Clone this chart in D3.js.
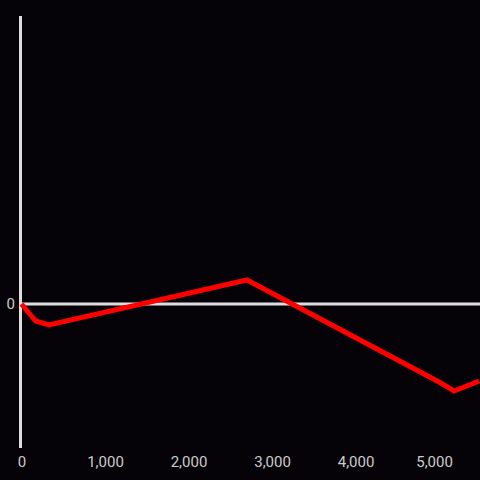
<!DOCTYPE html>
<html>
<head>
<meta charset="utf-8">
<script src="https://cdn.jsdelivr.net/npm/d3@7"></script>
<style>
  body { margin: 0; background: #050307; }
  svg { display: block; }
  .tick text { font-family: Roboto, sans-serif; font-size: 15px; fill: #cccccc; }
</style>
</head>
<body>
<div id="main"></div>
<script>
// values
var xValues = [0, 170, 330, 2700, 5000, 5180, 5480];
var yValues = [0, -17, -21, 24, -78, -87, -77];
var xTicks = [0, 1000, 2000, 3000, 4000, 5000];
var yTicks = [0];

var width = 480, height = 480;

var svg = d3.select("#main")
    .append("svg")
    .attr("width", width)
    .attr("height", height);

svg.append("rect")
    .attr("width", width)
    .attr("height", height)
    .attr("fill", "#050307");

var xScale = d3.scaleLinear()
    .domain([0, 5490])
    .range([21.5, 480]);

var yScale = d3.scaleLinear()
    .domain([-144, 288])
    .range([448, 16]);

// vertical axis line
svg.append("line")
    .attr("x1", 20.5).attr("x2", 20.5)
    .attr("y1", yScale(288)).attr("y2", yScale(-144))
    .attr("stroke", "#dddddd")
    .attr("stroke-width", 3);

// zero line
svg.append("line")
    .attr("x1", 22).attr("x2", width)
    .attr("y1", yScale(0)).attr("y2", yScale(0))
    .attr("stroke", "#dddddd")
    .attr("stroke-width", 3);

// x labels
var xAxis = svg.append("g")
    .attr("transform", "translate(0,452)")
    .call(d3.axisBottom(xScale)
        .tickValues(xTicks)
        .tickSize(0)
        .tickPadding(4.5)
        .tickFormat(d3.format(",")));
xAxis.select(".domain").remove();
// last label sits a bit left in the original
xAxis.selectAll(".tick text").filter(function (d) { return d === 5000; })
    .attr("dx", -5);

// y labels
var yAxis = svg.append("g")
    .attr("transform", "translate(19,0)")
    .call(d3.axisLeft(yScale)
        .tickValues(yTicks)
        .tickSize(0)
        .tickPadding(4));
yAxis.select(".domain").remove();

var data = xValues.map(function (x, i) { return [x, yValues[i]]; });

var line = d3.line()
    .x(function (d) { return xScale(d[0]); })
    .y(function (d) { return yScale(d[1]); });

svg.append("path")
    .datum(data)
    .attr("d", line)
    .attr("fill", "none")
    .attr("stroke", "#ff0000")
    .attr("stroke-width", 5);
</script>
</body>
</html>
